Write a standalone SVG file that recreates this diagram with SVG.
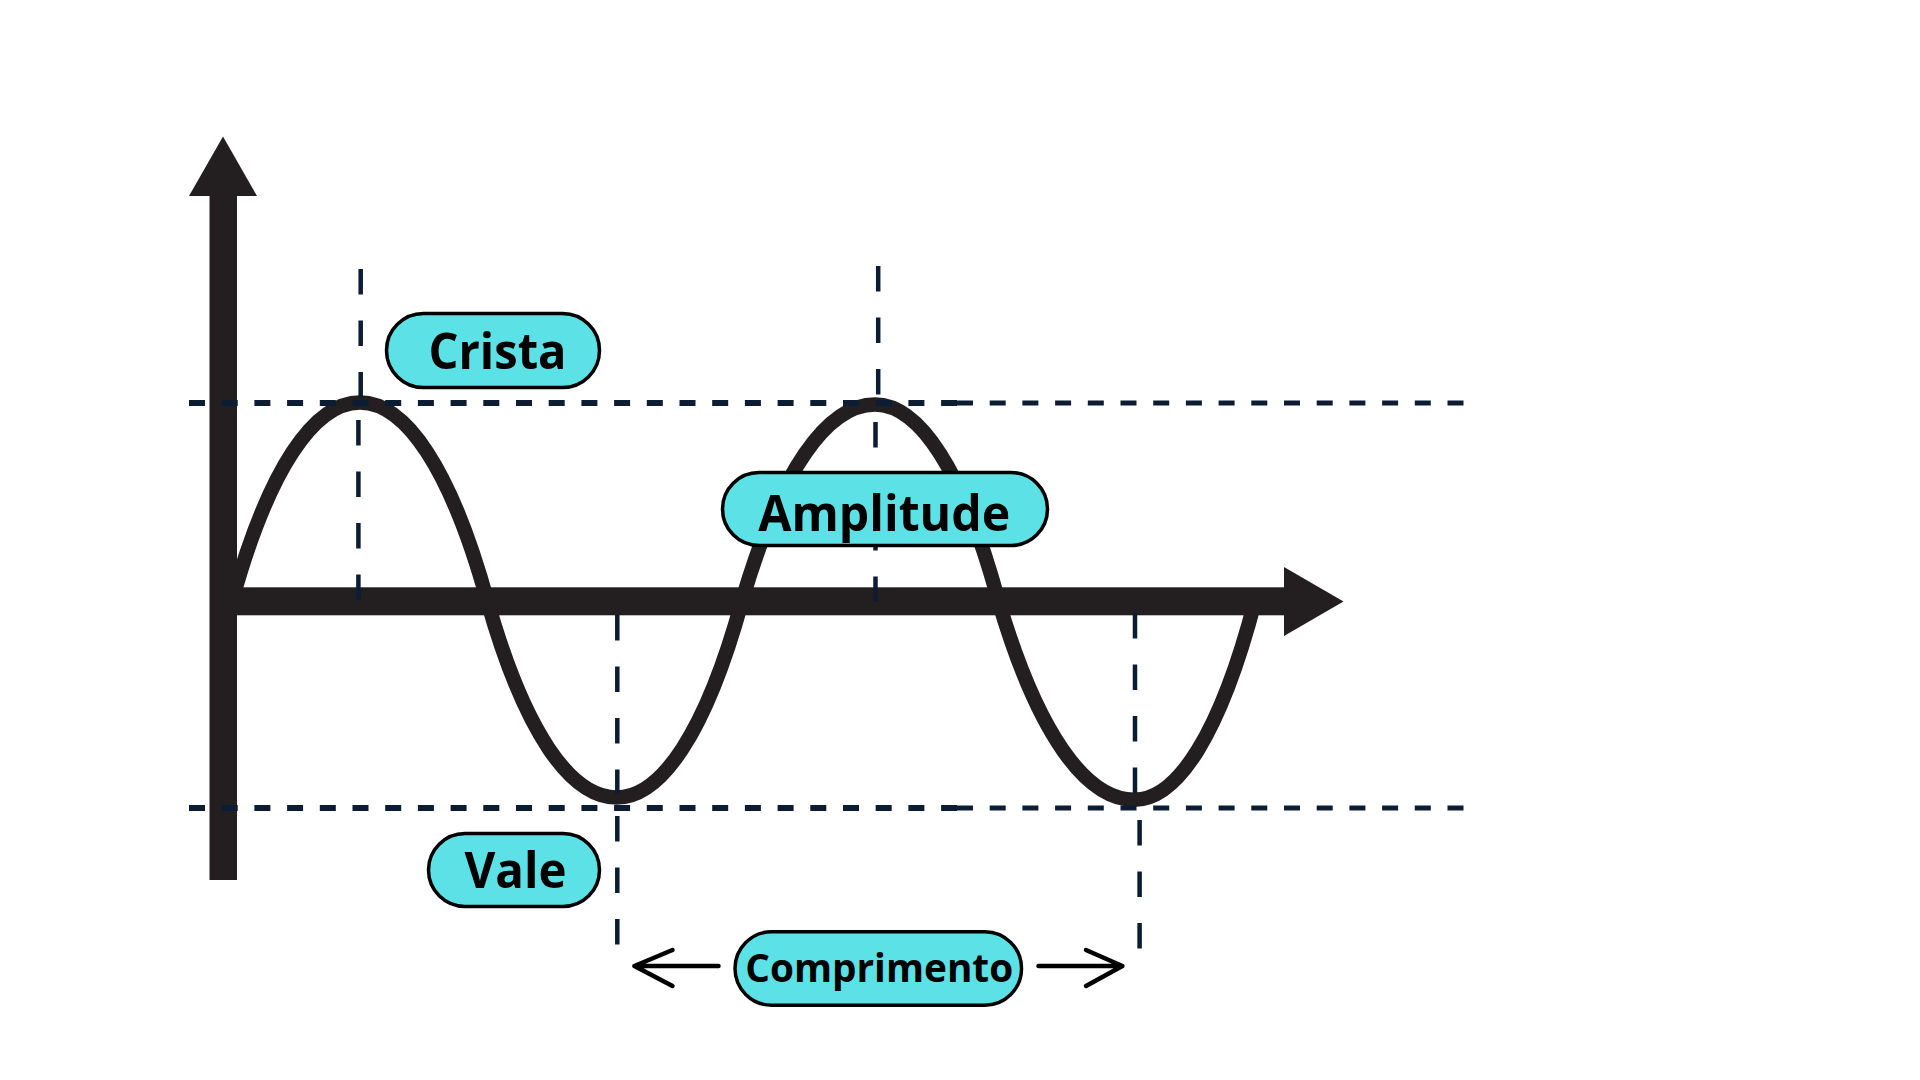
<svg xmlns="http://www.w3.org/2000/svg" width="1920" height="1080" viewBox="0 0 1920 1080">
<style>
.axis{fill:#231f20}
.wave{fill:none;stroke:#231f20;stroke-width:14.5}
.dh{fill:none;stroke:#0c1c32;stroke-width:5.5;stroke-dasharray:16 16.7}
.dv{fill:none;stroke:#0c1c32;stroke-width:4.5;stroke-dasharray:25.5 26}
.pill{fill:#5ce1e6;stroke:#000;stroke-width:3.5}
.lbl{font-family:"Open Sans","Noto Sans","DejaVu Sans",sans-serif;font-weight:700;fill:#000;text-anchor:middle}
.arr{fill:none;stroke:#000;stroke-width:4.5;stroke-linecap:round;stroke-linejoin:round}
</style>
<rect width="1920" height="1080" fill="#fff"/>
<g id="axes">
<rect class="axis" x="209.5" y="195" width="27.5" height="685"/>
<polygon class="axis" points="189,196 257,196 223,136.5"/>
<rect class="axis" x="220" y="587.3" width="1064.5" height="28"/>
<polygon class="axis" points="1284,567 1284,636 1343.5,601.5"/>
</g>
<g id="wave">
<path class="wave" d="M232,601 c36.7,-132.4 82.3,-198.5 128,-198.5 c45.5,0 90.8,66.1 127.4,198.5 c37.1,131.1 83.1,196.5 129.3,196.5 c44.7,0 89.3,-65.5 125.3,-196.5 c38.2,-131.1 85.5,-196.5 133,-196.5 c44.1,0 88.1,65.5 123.5,196.5 c39,132.6 87.3,198.8 135.8,198.8 c43.1,0 86.1,-66.3 120.7,-198.8"/>
</g>
<g id="connectors">
<line class="dh" x1="189" y1="403" x2="957" y2="403" style="stroke-width:6"/>
<line class="dh" x1="957" y1="403" x2="1470" y2="403" style="stroke-width:5"/>
<line class="dh" x1="189" y1="808" x2="957" y2="808" style="stroke-width:6"/>
<line class="dh" x1="957" y1="808" x2="1470" y2="808" style="stroke-width:5"/>
<line class="dv" x1="360.7" y1="269" x2="360.7" y2="398"/>
<line class="dv" x1="358.4" y1="420" x2="358.4" y2="601"/>
<line class="dv" x1="878.2" y1="266" x2="878.2" y2="397"/>
<line class="dv" x1="875.5" y1="422" x2="875.5" y2="604"/>
<line class="dv" x1="617.3" y1="615" x2="617.3" y2="794"/>
<line class="dv" x1="617.3" y1="816" x2="617.3" y2="946"/>
<line class="dv" x1="1135" y1="613" x2="1135" y2="794"/>
<line class="dv" x1="1139.6" y1="820" x2="1139.6" y2="949"/>
<path class="arr" d="M718.5,966 H634.4 M672.5,950 L634.4,966 L672.5,986"/>
<path class="arr" d="M1038.5,966 H1122.4 M1086,950 L1122.4,966 L1086,986"/>
</g>
<g id="crista">
<rect class="pill" x="386.5" y="313.5" width="213" height="74" rx="37"/>
<text class="lbl" x="497.5" y="369.3" font-size="50" textLength="138" lengthAdjust="spacingAndGlyphs">Crista</text>
</g>
<g id="amplitude">
<rect class="pill" x="722.5" y="472.5" width="325" height="73" rx="36.5"/>
<text class="lbl" x="884.2" y="530.5" font-size="50" textLength="252" lengthAdjust="spacingAndGlyphs">Amplitude</text>
</g>
<g id="vale">
<rect class="pill" x="428.5" y="833.5" width="171" height="73" rx="36.5"/>
<text class="lbl" x="515.5" y="888.3" font-size="50" textLength="102" lengthAdjust="spacingAndGlyphs">Vale</text>
</g>
<g id="comprimento">
<rect class="pill" x="735" y="931.7" width="286.5" height="73.5" rx="36.7"/>
<text class="lbl" x="879.2" y="981.7" font-size="40" textLength="268" lengthAdjust="spacingAndGlyphs">Comprimento</text>
</g>
</svg>
